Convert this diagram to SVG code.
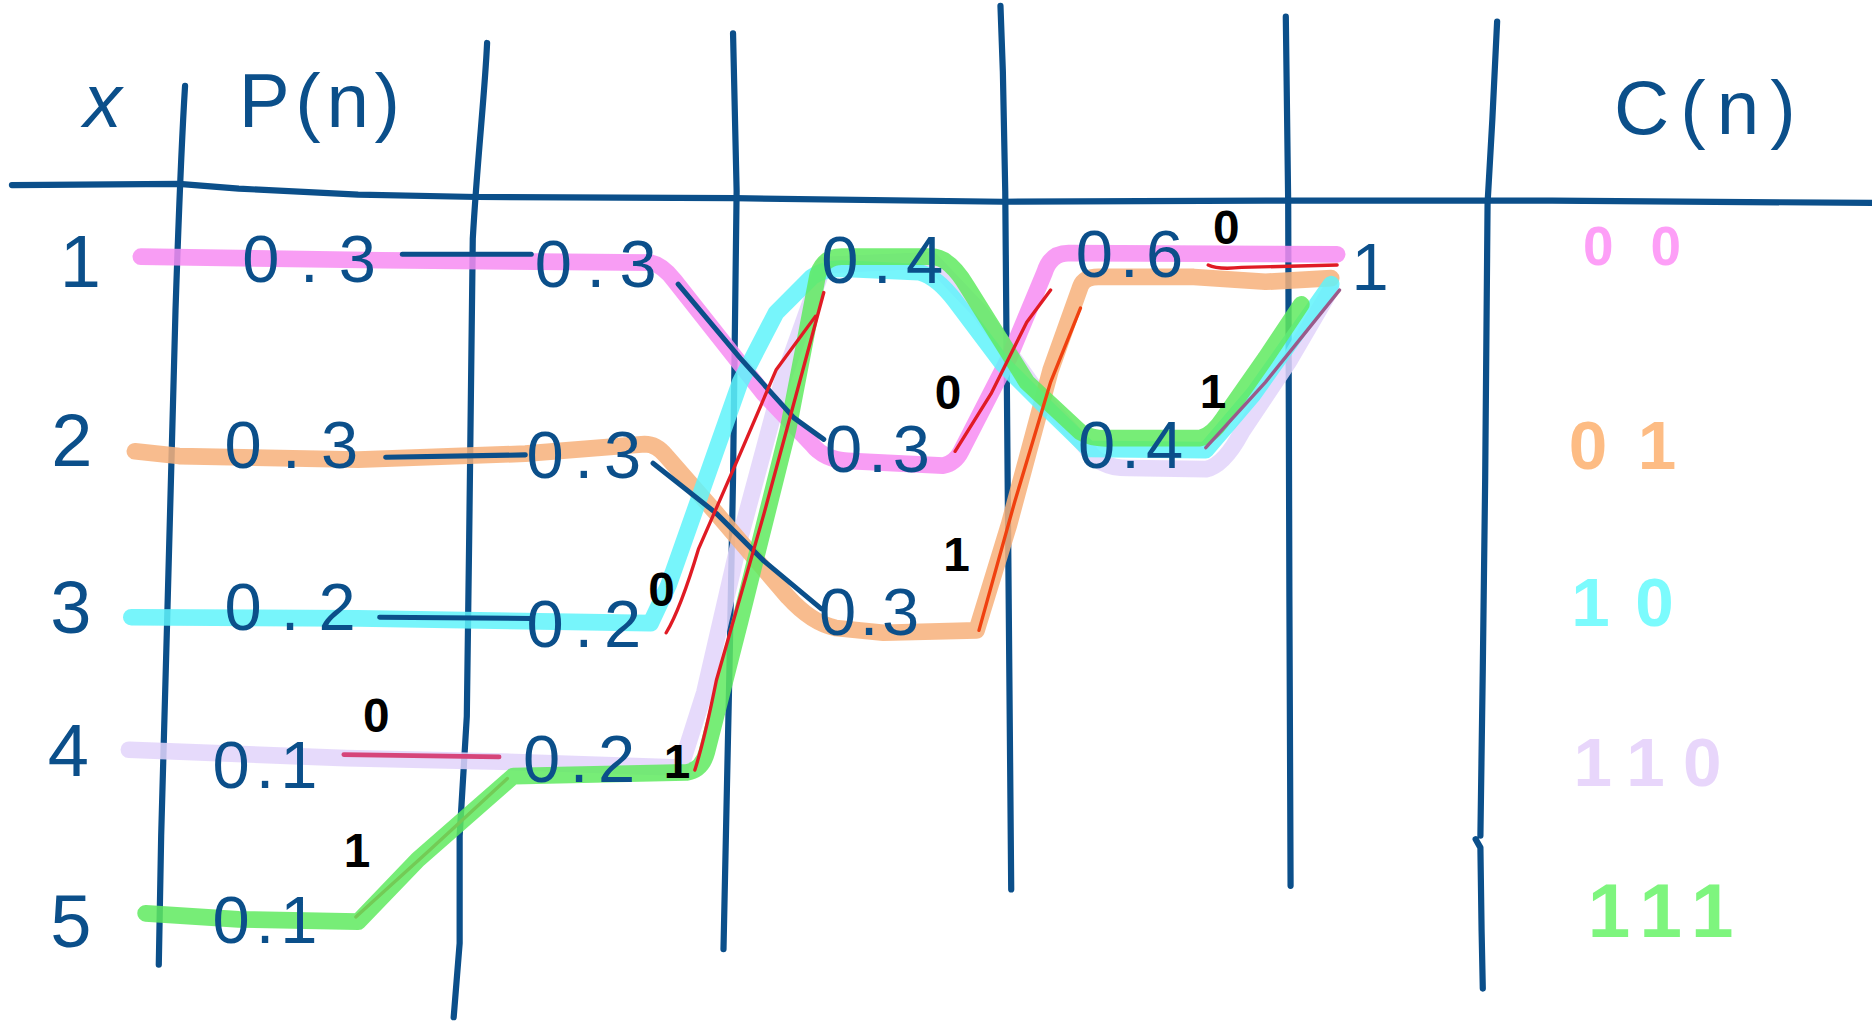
<svg xmlns="http://www.w3.org/2000/svg" width="1872" height="1022" viewBox="0 0 1872 1022">
<style>
.grid{fill:none;stroke:#0b4f8a;stroke-width:5.2;stroke-linecap:round;stroke-linejoin:round}
.thin{fill:none;stroke:#0b4f8a;stroke-width:4.2;stroke-linecap:round;stroke-linejoin:round}
.hl{fill:none;stroke-width:14;stroke-linecap:round;stroke-linejoin:round;opacity:0.85}
.red{fill:none;stroke:#e01b24;stroke-width:2.8;stroke-linecap:round;stroke-linejoin:round}
.num{font-family:"Liberation Sans",Arial,sans-serif;font-size:56px;fill:#0b4f8a}
.row{font-family:"Liberation Sans",Arial,sans-serif;font-size:62px;fill:#0b4f8a}
.hdr{font-family:"Liberation Sans",Arial,sans-serif;font-size:64px;fill:#0b4f8a}
.bit{font-family:"Liberation Sans",Arial,sans-serif;font-size:40px;fill:#000;font-weight:bold}
.code{font-family:"Liberation Sans",Arial,sans-serif;font-weight:bold}
</style>
<rect width="1872" height="1022" fill="#fff"/>
<g transform="scale(1.19388)">
<g id="grid">
<path class="grid" d="M155,72 C152,120 150,170 147,260 L140,520 L135,700 L133,808"/>
<path class="grid" d="M408,36 C406,80 400,130 396,200 L393,450 L391,600 L385,700 L385,790 L380,852"/>
<path class="grid" d="M614,28 L617,160 L614,400 L611,560 L606,795"/>
<path class="grid" d="M838,5 L840,60 L842,160 L844,400 L847,745"/>
<path class="grid" d="M1077,14 L1079,170 L1080,500 L1081,742"/>
<path class="grid" d="M1254,18 L1250,100 L1246,170 L1244,400 L1242,560 L1240,700 M1236,703 L1240,710 L1241,780 L1242,828"/>
<path class="grid" d="M10,155 L150,154 L200,158 L300,163 L400,165 L615,166 L840,169 L1060,168 L1300,168 L1568,170"/>
</g>
<g id="headers">
<text class="hdr" x="70" y="106" font-style="italic">x</text>
<text class="hdr" x="200" y="106" textLength="135" lengthAdjust="spacing">P(n)</text>
<text class="hdr" x="1352" y="112" textLength="152" lengthAdjust="spacing">C(n)</text>
</g>
<g id="row-labels">
<text class="row" x="50" y="240">1</text>
<text class="row" x="43" y="390">2</text>
<text class="row" x="42" y="530">3</text>
<text class="row" x="40" y="650">4</text>
<text class="row" x="42" y="793">5</text>
</g>
<g id="connectors">
<path class="hl" stroke="#e2d3fa" d="M108,628 L290,635 L420,638 L570,643 L590,580 L620,450 L655,320 L690,222 L780,218 L820,260 L870,330 L910,375 Q920,392 945,392 L1010,393 Q1025,390 1040,362 L1080,302 L1115,242"/>
<path class="hl" stroke="#f7b07a" d="M113,378 L150,382 L300,385 L440,380 L540,372 Q550,372 558,382 L600,430 L660,500 Q680,522 700,526 L740,530 L818,528 L845,440 L880,310 L905,240 Q908,232 920,232 L1000,232 L1060,236 L1115,233"/>
<path class="hl" stroke="#f78cf2" d="M118,215 L320,218 L545,220 Q555,222 565,235 L640,330 L680,372 Q690,385 710,386 L790,390 Q800,388 805,378 L845,300 L875,228 Q880,212 895,212 L1120,213"/>
<path class="hl" stroke="#5ff3fa" d="M110,517 L300,518 L545,522 L560,490 L590,405 L620,320 L650,262 L680,232 Q690,225 705,225 L770,228 Q785,232 800,252 L840,305 L880,345 L912,376 L1010,377 L1050,330 L1115,238"/>
<path class="red" d="M298,768 L360,712 L425,652"/>
<path class="hl" stroke="#5fea5f" d="M122,765 L200,770 L300,772 L350,720 L430,650 L575,647 Q588,645 592,630 L620,520 L660,360 L685,230 Q690,215 705,215 L780,215 Q795,215 810,240 L860,320 L905,362 Q915,368 930,367 L1005,367 Q1015,365 1025,350 L1060,300 L1090,255"/>
<path class="thin" d="M337,213 L445,213"/>
<path class="thin" d="M323,383 L440,381"/>
<path class="thin" d="M318,517 L445,518"/>
<path class="thin" d="M568,238 L620,300 L665,350 L690,368"/>
<path class="thin" d="M547,388 L600,430 L640,470 L688,510"/>
<path class="red" d="M558,530 Q570,510 585,460 L620,380 L650,310 L683,265"/>
<path class="red" d="M582,645 Q590,620 600,570 L640,430 L690,245"/>
<path fill="none" stroke="#d6457a" stroke-width="4" stroke-linecap="round" d="M288,632 L418,634"/>
<path class="red" d="M800,378 L830,330 L860,270 L880,243"/>
<path fill="none" stroke="#f0400f" stroke-width="2.8" stroke-linecap="round" d="M820,528 L850,420 L880,320 L905,258"/>
<path class="red" d="M1012,222 Q1020,226 1040,224 L1120,222"/>
<path fill="none" stroke="#9b5a8a" stroke-width="2.8" stroke-linecap="round" d="M1010,375 L1060,320 L1122,243"/>
</g>
<g id="col1">
<text class="num" x="203" y="236" textLength="112" lengthAdjust="spacing">0.3</text>
<text class="num" x="188" y="392" textLength="112" lengthAdjust="spacing">0.3</text>
<text class="num" x="188" y="528" textLength="110" lengthAdjust="spacing">0.2</text>
<text class="num" x="178" y="660" textLength="88" lengthAdjust="spacing">0.1</text>
<text class="num" x="178" y="790" textLength="88" lengthAdjust="spacing">0.1</text>
</g>
<g id="col2">
<text class="num" x="448" y="240" textLength="102" lengthAdjust="spacing">0.3</text>
<text class="num" x="441" y="400" textLength="96" lengthAdjust="spacing">0.3</text>
<text class="num" x="441" y="542" textLength="96" lengthAdjust="spacing">0.2</text>
<text class="num" x="438" y="655" textLength="94" lengthAdjust="spacing">0.2</text>
</g>
<g id="col3">
<text class="num" x="688" y="237" textLength="102" lengthAdjust="spacing">0.4</text>
<text class="num" x="691" y="395" textLength="88" lengthAdjust="spacing">0.3</text>
<text class="num" x="686" y="532" textLength="84" lengthAdjust="spacing">0.3</text>
</g>
<g id="col4">
<text class="num" x="901" y="232" textLength="90" lengthAdjust="spacing">0.6</text>
<text class="num" x="903" y="392" textLength="88" lengthAdjust="spacing">0.4</text>
</g>
<g id="col5">
<text class="num" x="1132" y="243">1</text>
</g>
<g id="bits">
<text class="bit" x="304" y="613">0</text>
<text class="bit" x="288" y="726">1</text>
<text class="bit" x="543" y="508">0</text>
<text class="bit" x="556" y="652">1</text>
<text class="bit" x="783" y="343" font-size="46">0</text>
<text class="bit" x="790" y="478">1</text>
<text class="bit" x="1016" y="204">0</text>
<text class="bit" x="1005" y="342">1</text>
</g>
<g id="codes">
<text class="code" x="1326" y="222" font-size="46" fill="#fd9ff7" textLength="82" lengthAdjust="spacing">00</text>
<text class="code" x="1314" y="393" font-size="58" fill="#fdbc84" textLength="90" lengthAdjust="spacing">01</text>
<text class="code" x="1316" y="524" font-size="58" fill="#7cfbfd" textLength="86" lengthAdjust="spacing">10</text>
<text class="code" x="1318" y="658" font-size="58" fill="#e8d6fb" textLength="124" lengthAdjust="spacing">110</text>
<text class="code" x="1330" y="785" font-size="64" fill="#7ef57e" textLength="122" lengthAdjust="spacing">111</text>
</g>
</g>
</svg>
